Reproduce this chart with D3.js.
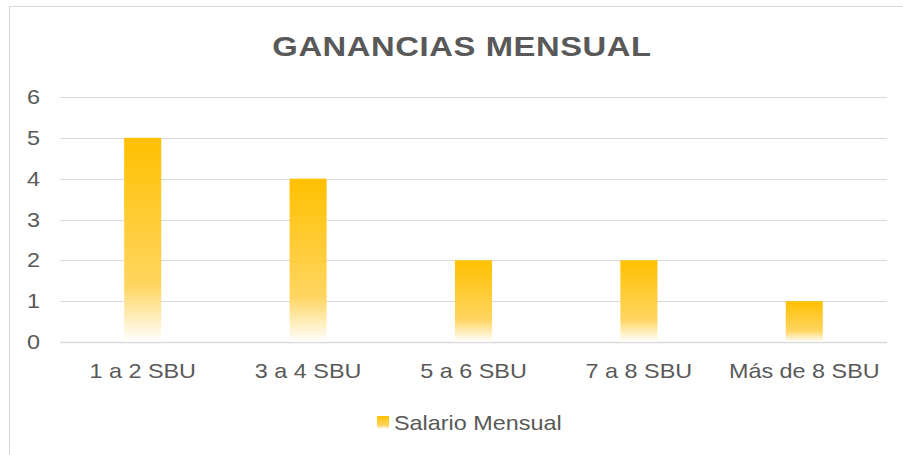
<!DOCTYPE html>
<html>
<head>
<meta charset="utf-8">
<script src="https://cdn.jsdelivr.net/npm/d3@7"></script>
<style>
  body { margin: 0; background: #fff; }
  text { font-family: "Liberation Sans", Arial, sans-serif; fill: #595959; }
</style>
</head>
<body>
<div id="viz"></div>
<script>
const categories = ['1 a 2 SBU', '3 a 4 SBU', '5 a 6 SBU', '7 a 8 SBU', 'Más de 8 SBU'];
const values = [5, 4, 2, 2, 1];
const yTicks = [0, 1, 2, 3, 4, 5, 6];
const seriesName = 'Salario Mensual';
const title = 'GANANCIAS MENSUAL';

const width = 903;
const height = 455;
const margin = {top: 97, right: 16, bottom: 113, left: 60};
const stretch = 1.17; // text in the reference is a bit wider than it is tall

const svg = d3.select('#viz')
  .append('svg')
    .attr('width', width)
    .attr('height', height);

// gradient: gold on top, fading to white at the base of each bar
const grad = svg.append('defs').append('linearGradient')
  .attr('id', 'barGrad')
  .attr('x1', 0).attr('y1', 0).attr('x2', 0).attr('y2', 1);
grad.append('stop').attr('offset', '0%').attr('stop-color', '#FFC000');
grad.append('stop').attr('offset', '72%').attr('stop-color', '#FFD55F');
grad.append('stop').attr('offset', '100%').attr('stop-color', '#FFFFFF');

// chart border
svg.append('rect')
  .attr('x', 9.5).attr('y', 6.5)
  .attr('width', 920).attr('height', 470)
  .attr('fill', 'none')
  .attr('stroke', '#D9D9D9');

const xScale = d3.scaleBand()
  .domain(categories)
  .range([margin.left, width - margin.right])
  .paddingInner(0.776)
  .paddingOuter(0.388);

const yScale = d3.scaleLinear()
  .domain([0, 6])
  .range([height - margin.bottom, margin.top]);

// gridlines
svg.append('g')
  .selectAll('line')
  .data(yTicks)
  .join('line')
    .attr('x1', margin.left)
    .attr('x2', width - margin.right)
    .attr('y1', d => Math.round(yScale(d)) + 0.5)
    .attr('y2', d => Math.round(yScale(d)) + 0.5)
    .attr('stroke', '#D9D9D9')
    .attr('stroke-width', d => d === 0 ? 1.5 : 1);

// y tick labels
svg.append('g')
  .selectAll('text')
  .data(yTicks)
  .join('text')
    .attr('transform', d => `translate(40, ${yScale(d) + 7}) scale(${stretch},1)`)
    .attr('text-anchor', 'end')
    .attr('font-size', 20)
    .text(d => d);

// bars
svg.append('g')
  .selectAll('rect')
  .data(values)
  .join('rect')
    .attr('x', (d, i) => xScale(categories[i]))
    .attr('y', d => yScale(d))
    .attr('width', xScale.bandwidth())
    .attr('height', d => yScale(0) - yScale(d))
    .attr('fill', 'url(#barGrad)');

// x labels
svg.append('g')
  .selectAll('text')
  .data(categories)
  .join('text')
    .attr('transform', d => `translate(${xScale(d) + xScale.bandwidth() / 2}, 378) scale(${stretch},1)`)
    .attr('text-anchor', 'middle')
    .attr('font-size', 20)
    .text(d => d);

// title
svg.append('text')
  .attr('transform', `translate(462, 56) scale(${stretch},1)`)
  .attr('text-anchor', 'middle')
  .attr('font-size', 28)
  .attr('font-weight', 'bold')
  .attr('letter-spacing', 0.5)
  .text(title);

// legend
const legend = svg.append('g').attr('transform', 'translate(377, 416)');
legend.append('rect')
  .attr('width', 12).attr('height', 13)
  .attr('fill', 'url(#barGrad)');
legend.append('text')
  .attr('transform', `translate(17, 14) scale(${stretch},1)`)
  .attr('font-size', 20)
  .text(seriesName);
</script>
</body>
</html>
